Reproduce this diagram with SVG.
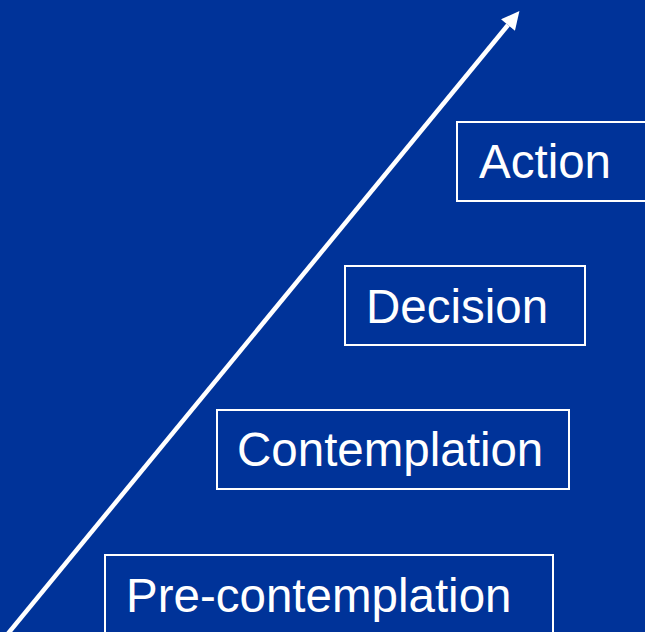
<svg xmlns="http://www.w3.org/2000/svg" width="645" height="632" viewBox="0 0 645 632">
  <style>
    .stage rect { fill: none; stroke: #ffffff; stroke-width: 2; }
    .stage text { fill: #ffffff; font-family: "Liberation Sans", Arial, sans-serif; font-size: 47.5px; }
    .flow { stroke: #ffffff; stroke-width: 4.5; fill: none; }
  </style>
  <defs>
    <marker id="head" viewBox="0 0 10 10" refX="0" refY="5" markerWidth="4.2" markerHeight="4" orient="auto" markerUnits="strokeWidth">
      <path d="M0,0 L10,5 L0,10 Z" fill="#ffffff"/>
    </marker>
  </defs>
  <rect width="645" height="632" fill="#003399"/>

  <g id="connectors">
    <line class="flow" x1="6" y1="636" x2="508" y2="25" marker-end="url(#head)"/>
  </g>

  <g id="action" class="stage">
    <rect x="457" y="122" width="190" height="79"/>
    <text x="479" y="178">Action</text>
  </g>
  <g id="decision" class="stage">
    <rect x="345" y="266" width="240" height="79"/>
    <text x="366" y="323">Decision</text>
  </g>
  <g id="contemplation" class="stage">
    <rect x="217" y="410" width="352" height="79"/>
    <text x="237" y="466">Contemplation</text>
  </g>
  <g id="pre-contemplation" class="stage">
    <rect x="105" y="555" width="448" height="80"/>
    <text x="126" y="612">Pre-contemplation</text>
  </g>
</svg>
